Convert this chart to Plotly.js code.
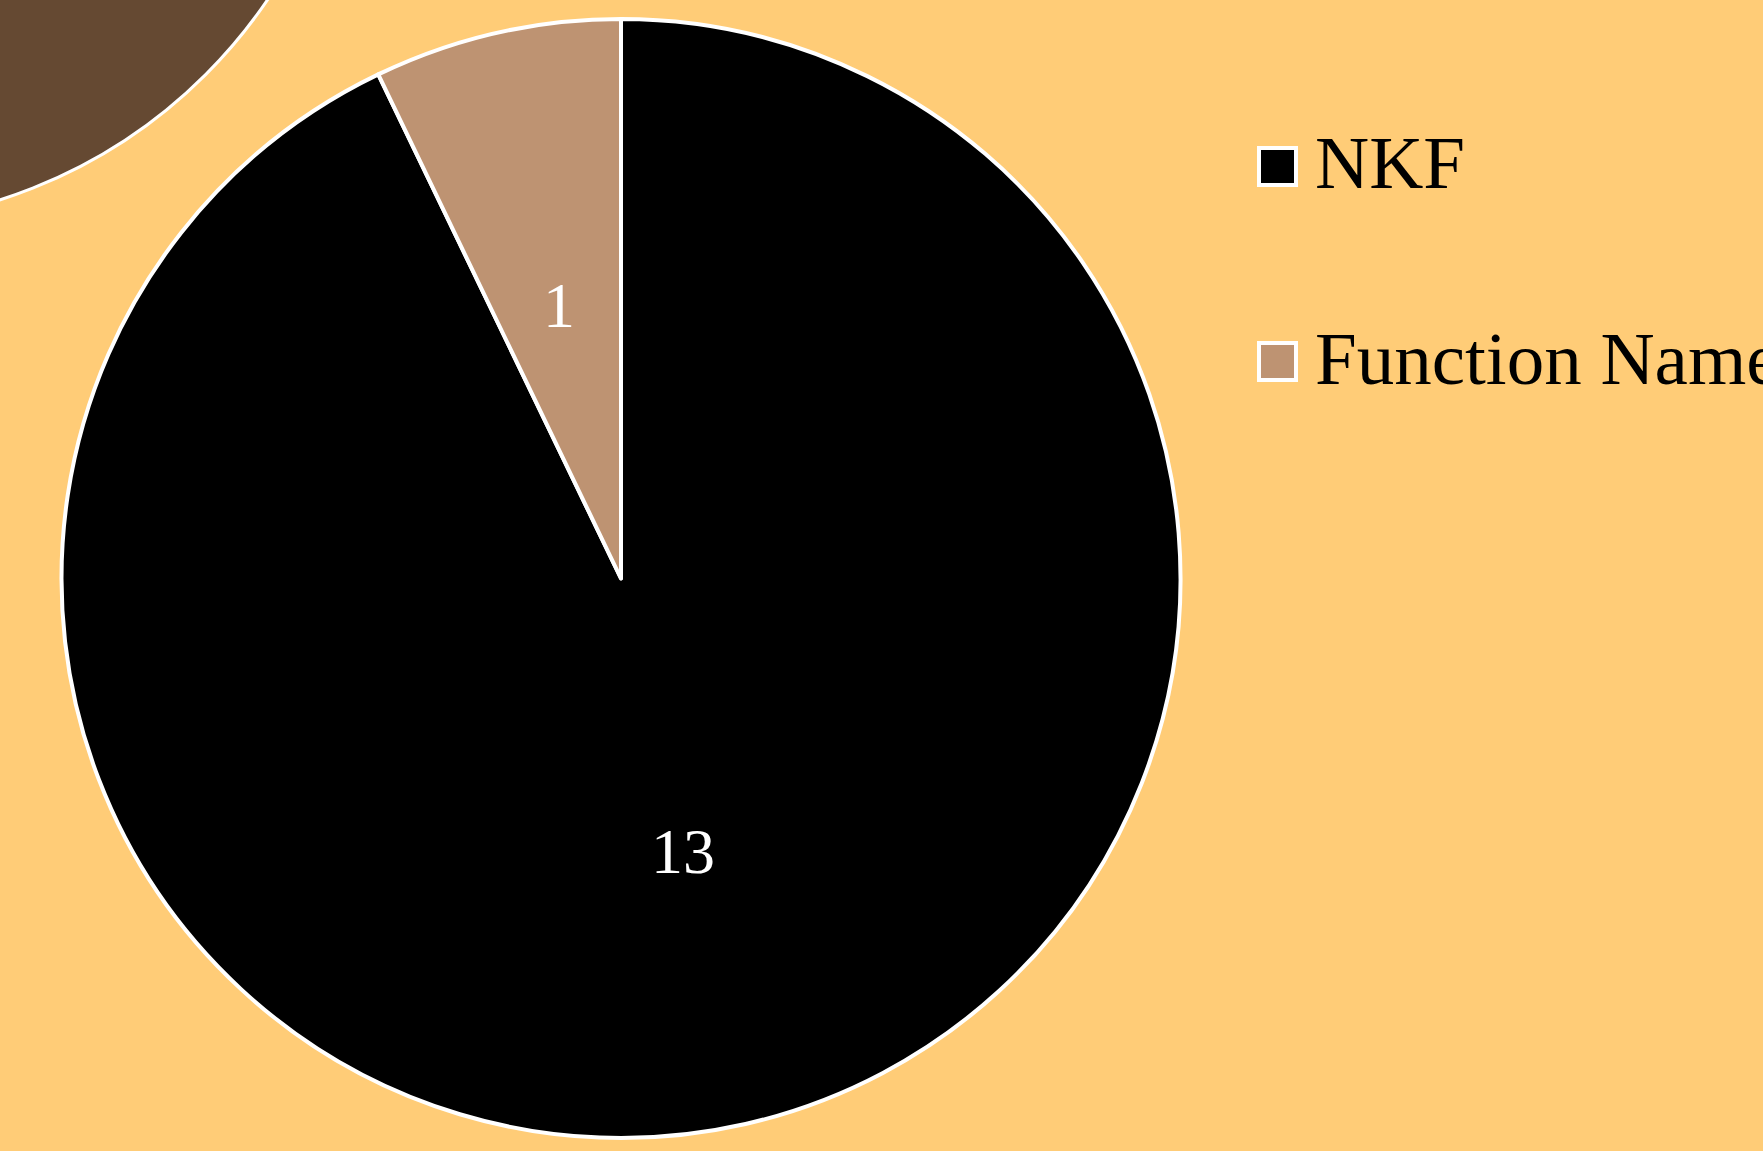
<!DOCTYPE html>
<html>
<head>
<meta charset="utf-8">
<script src="https://cdn.plot.ly/plotly-3.0.1.min.js"></script>
<style>
html, body { margin: 0; padding: 0; background: #FFCC77; overflow: hidden; }
#chart { width: 1763px; height: 1151px; }
</style>
</head>
<body>
<div id="chart"></div>
<script>
// Data
const labels = ["NKF", "Function Name"];
const values = [13, 1];
const colors = ["#000000", "#BE9372"];

const W = 1763, H = 1151;
const px2x = p => p / W;
const px2y = p => 1 - p / H;

const FONT = '"Liberation Serif", "Times New Roman", Times, serif';

// pie geometry (pixels)
const CX = 621, CY = 578.5, R = 559.5;

const trace = {
  type: 'pie',
  labels: labels,
  values: values,
  sort: false,
  direction: 'clockwise',
  rotation: 0,
  marker: { colors: colors, line: { color: '#FFFFFF', width: 4 } },
  textinfo: 'none',
  domain: { x: [px2x(CX - R), px2x(CX + R)], y: [px2y(CY + R), px2y(CY - R)] },
  showlegend: false,
  hoverinfo: 'label+value+percent'
};

const shapes = [];
const annotations = [];

// decorative brown circle, partly off the page at top-left
shapes.push({
  type: 'circle', xref: 'paper', yref: 'paper', layer: 'below',
  x0: px2x(-155 - 510), x1: px2x(-155 + 510),
  y0: px2y(-286 + 510), y1: px2y(-286 - 510),
  fillcolor: '#654932', line: { color: '#FFFFFF', width: 3 }
});

// value labels: at half radius along each slice's mid-angle (clockwise from 12 o'clock)
const total = values.reduce((a, b) => a + b, 0);
let cum = 0;
values.forEach((v, i) => {
  const mid = (cum + v / 2) / total * 2 * Math.PI;
  cum += v;
  const x = CX + 0.5 * R * Math.sin(mid);
  const y = CY - 0.5 * R * Math.cos(mid);
  annotations.push({
    xref: 'paper', yref: 'paper', x: px2x(x), y: px2y(y),
    xanchor: 'center', yanchor: 'middle', showarrow: false,
    text: String(v), font: { family: FONT, size: 64, color: '#FFFFFF' }
  });
});

// legend with large symbols, built from labels/colors
const legTop = 166.5, legGap = 195, sq = 37, symX = 1277.5, textX = 1313;
labels.forEach((lab, i) => {
  const cy = legTop + i * legGap;
  shapes.push({
    type: 'rect', xref: 'paper', yref: 'paper',
    x0: px2x(symX - sq / 2), x1: px2x(symX + sq / 2),
    y0: px2y(cy + sq / 2), y1: px2y(cy - sq / 2),
    fillcolor: colors[i], line: { color: '#FFFFFF', width: 4 }
  });
  annotations.push({
    xref: 'paper', yref: 'paper', x: px2x(textX), y: px2y(cy - 3.5),
    xanchor: 'left', yanchor: 'middle', showarrow: false,
    text: lab, font: { family: FONT, size: 75, color: '#000000' }
  });
});

const layout = {
  width: W, height: H,
  margin: { l: 0, r: 0, t: 0, b: 0 },
  paper_bgcolor: '#FFCC77',
  plot_bgcolor: '#FFCC77',
  showlegend: false,
  shapes: shapes,
  annotations: annotations,
  font: { family: FONT }
};

Plotly.newPlot('chart', [trace], layout, { displayModeBar: false, responsive: false });
</script>
</body>
</html>
